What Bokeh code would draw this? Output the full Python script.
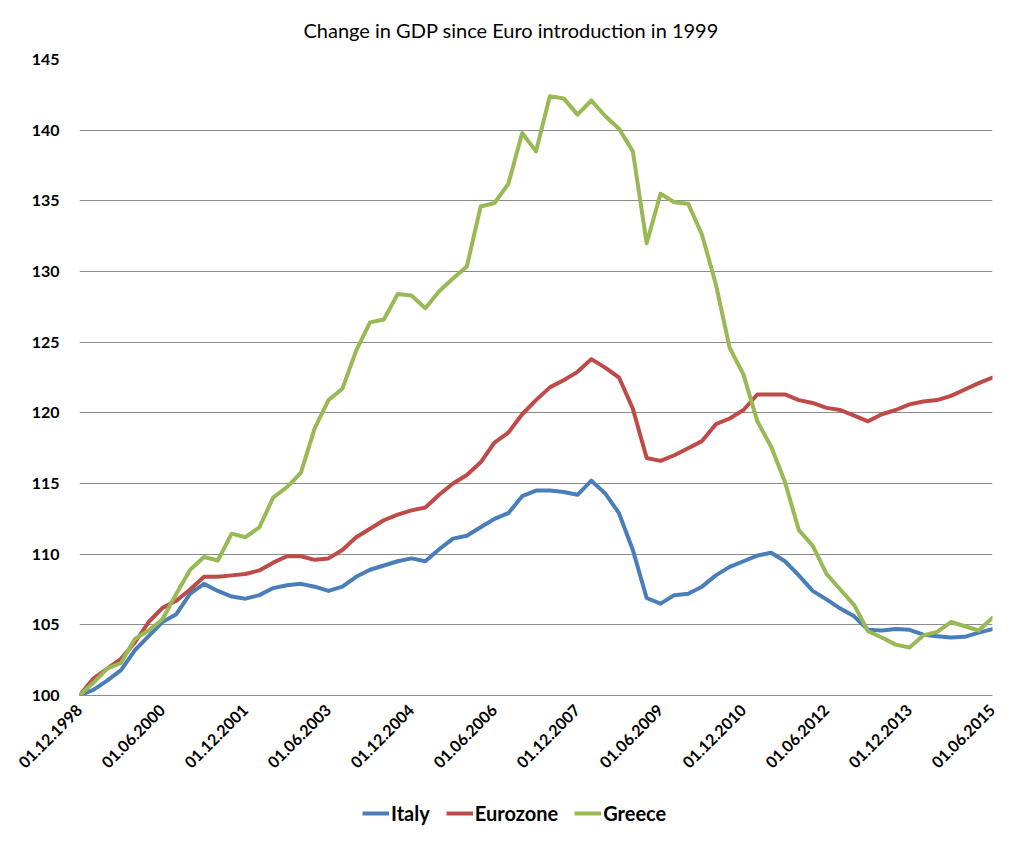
from bokeh.plotting import figure
from bokeh.layouts import column
from bokeh.models import (Range1d, FixedTicker, Legend, LegendItem, Title,
                          ColumnDataSource)
from bokeh.embed import file_html
from bokeh.resources import INLINE
import math

# ---- data (quarterly index, 01.12.1998 = 100) ----
tick_labels = ["01.12.1998", "01.06.2000", "01.12.2001", "01.06.2003",
               "01.12.2004", "01.06.2006", "01.12.2007", "01.06.2009",
               "01.12.2010", "01.06.2012", "01.12.2013", "01.06.2015"]

italy = [100, 100.4, 101.05, 101.8, 103.2, 104.2, 105.2, 105.75, 107.2, 107.9,
         107.4, 107.0, 106.85, 107.1, 107.6, 107.8, 107.9, 107.7, 107.4, 107.7,
         108.4, 108.9, 109.2, 109.5, 109.7, 109.5, 110.35, 111.1, 111.3, 111.9,
         112.5, 112.9, 114.1, 114.5, 114.5, 114.4, 114.2, 115.2, 114.3, 112.9,
         110.3, 106.9, 106.5, 107.1, 107.2, 107.7, 108.5, 109.1, 109.5, 109.9,
         110.1, 109.5, 108.5, 107.4, 106.8, 106.15, 105.6, 104.65, 104.6, 104.7,
         104.65, 104.3, 104.2, 104.1, 104.15, 104.45, 104.7]

eurozone = [100, 101.2, 101.9, 102.6, 103.75, 105.2, 106.2, 106.7, 107.5, 108.4,
            108.4, 108.5, 108.6, 108.85, 109.4, 109.85, 109.85, 109.6, 109.7, 110.3,
            111.2, 111.8, 112.4, 112.8, 113.1, 113.3, 114.2, 115.0, 115.6, 116.5,
            117.9, 118.6, 119.9, 120.9, 121.8, 122.3, 122.9, 123.8, 123.2, 122.5,
            120.3, 116.8, 116.6, 117.0, 117.5, 118.0, 119.2, 119.6, 120.2, 121.3,
            121.3, 121.3, 120.9, 120.7, 120.35, 120.2, 119.8, 119.4, 119.9, 120.2,
            120.6, 120.8, 120.9, 121.2, 121.65, 122.1, 122.5]

greece = [100, 100.9, 101.9, 102.3, 104.0, 104.6, 105.4, 107.2, 108.9, 109.8,
          109.55, 111.45, 111.2, 111.9, 114.0, 114.75, 115.75, 118.9, 120.9, 121.7,
          124.4, 126.4, 126.6, 128.4, 128.3, 127.4, 128.6, 129.5, 130.35, 134.6,
          134.85, 136.2, 139.8, 138.5, 142.4, 142.25, 141.1, 142.1, 141.0, 140.1,
          138.5, 132.0, 135.5, 134.9, 134.8, 132.6, 129.1, 124.6, 122.7, 119.4,
          117.6, 115.1, 111.7, 110.6, 108.6, 107.5, 106.4, 104.55, 104.1, 103.6,
          103.4, 104.25, 104.5, 105.2, 104.9, 104.6, 105.5]

series_names = ["Italy", "Eurozone", "Greece"]
series_cols = ["italy", "eurozone", "greece"]
series_colors = ["#4A7EBB", "#BE4B48", "#98B954"]

quarter = list(range(len(italy)))
tick_pos = [6 * k for k in range(len(tick_labels))]

FONT = "Lato"
MAIN_H = 786
LEG_H = 40

p = figure(width=1008, height=MAIN_H, output_backend="svg", toolbar_location=None,
           x_range=Range1d(0, 66), y_range=Range1d(100, 145),
           min_border_left=79, min_border_right=16, min_border_top=59,
           min_border_bottom=MAIN_H - 695, title=None)
p.outline_line_color = None
p.background_fill_color = "white"
p.border_fill_color = "white"

src = ColumnDataSource(dict(q=quarter, italy=italy, eurozone=eurozone, greece=greece))
for col, colr in zip(series_cols, series_colors):
    p.line("q", col, source=src, line_width=4, line_color=colr,
           line_join="round", line_cap="round")

# grid
p.xgrid.grid_line_color = None
p.ygrid.ticker = FixedTicker(ticks=list(range(100, 146, 5)))
p.ygrid.grid_line_color = "#8C8C8C"
p.ygrid.grid_line_width = 1

# y axis
p.yaxis.ticker = FixedTicker(ticks=list(range(100, 146, 5)))
p.yaxis.axis_line_color = None
p.yaxis.major_tick_line_color = None
p.yaxis.minor_tick_line_color = None
p.yaxis.major_tick_out = 0
p.yaxis.major_tick_in = 0
p.yaxis.major_label_standoff = 20
p.yaxis.major_label_text_font = FONT
p.yaxis.major_label_text_font_style = "bold"
p.yaxis.major_label_text_font_size = "16px"
p.yaxis.major_label_text_color = "black"

# x axis
p.xaxis.ticker = FixedTicker(ticks=tick_pos)
p.xaxis.major_label_overrides = {tp: lab for tp, lab in zip(tick_pos, tick_labels)}
p.xaxis.axis_line_color = "#8C8C8C"
p.xaxis.major_tick_line_color = None
p.xaxis.minor_tick_line_color = None
p.xaxis.major_tick_out = 0
p.xaxis.major_tick_in = 0
p.xaxis.major_label_standoff = 12
p.xaxis.major_label_orientation = math.pi / 4
p.xaxis.major_label_text_font = FONT
p.xaxis.major_label_text_font_style = "bold"
p.xaxis.major_label_text_font_size = "16px"
p.xaxis.major_label_text_color = "black"

# title above the frame
title = Title(text="Change in GDP since Euro introduction in 1999",
              align="left", offset=224, vertical_align="top",
              text_font=FONT, text_font_size="20px",
              text_font_style="normal", text_color="black", standoff=32)
p.add_layout(title, "above")

# ---- legend strip below the chart (its frame is aligned with the main plot) ----
lg = figure(width=1008, height=LEG_H, output_backend="svg", toolbar_location=None,
            x_range=Range1d(-10, -9), y_range=Range1d(-10, -9),
            x_axis_location=None, y_axis_location=None,
            min_border_left=79, min_border_right=16, min_border_top=0,
            min_border_bottom=0)
lg.outline_line_color = None
lg.xgrid.grid_line_color = None
lg.ygrid.grid_line_color = None
lg.background_fill_color = "white"
lg.border_fill_color = "white"
items = []
for name, col, colr in zip(series_names, series_cols, series_colors):
    # same series, outside this strip's visible range: only the legend swatch shows
    r = lg.line("q", col, source=src, line_width=4, line_color=colr)
    items.append(LegendItem(label=name, renderers=[r]))

# location = bottom-left corner of the legend, frame-relative
legend = Legend(items=items, orientation="horizontal", location=(283, 1),
                padding=0, margin=0, spacing=16, glyph_width=27, glyph_height=24,
                label_height=24, label_standoff=2, border_line_color=None,
                background_fill_alpha=0,
                label_text_font=FONT, label_text_font_style="bold",
                label_text_font_size="20px", label_text_color="black")
lg.add_layout(legend, "center")

layout = column(p, lg, spacing=0)
open("out.html", "w").write(file_html(layout, INLINE))
